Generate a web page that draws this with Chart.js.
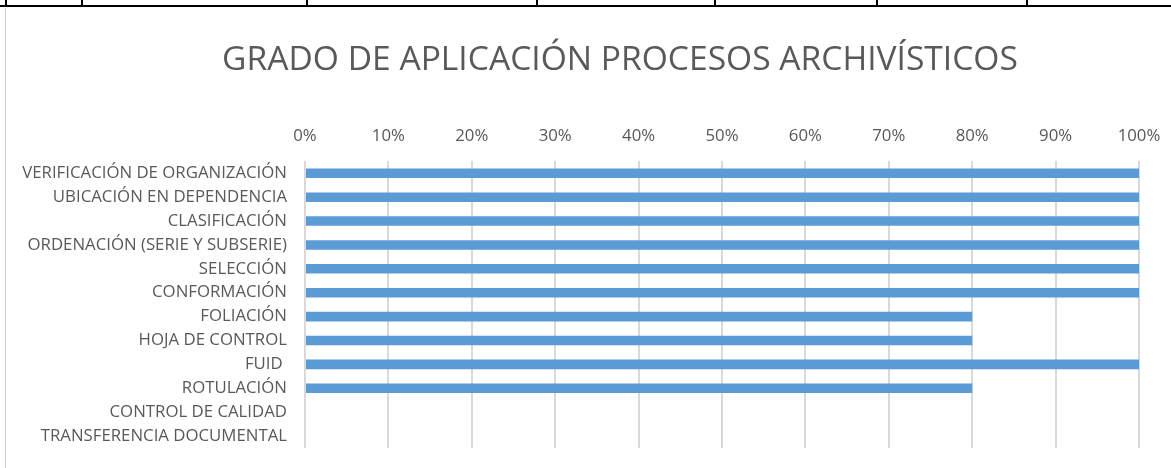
<!DOCTYPE html>
<html>
<head>
<meta charset="utf-8">
<script src="https://cdn.jsdelivr.net/npm/chart.js@4"></script>
<style>
  html, body { margin: 0; padding: 0; background: #fff; }
  #wrap { position: relative; width: 1171px; height: 468px; overflow: hidden; }
  #chart { position: absolute; left: 0; top: 0; }
  .hline { position: absolute; left: 0; top: 5px; width: 1171px; height: 2px; background: #000; }
  .vline { position: absolute; top: 0; width: 2px; height: 6px; background: #000; }
  .frame { position: absolute; left: 5px; top: 8px; width: 1px; height: 460px; background: #d0d0d0; }
</style>
</head>
<body>
<div id="wrap">
  <div class="hline"></div>
  <div class="vline" style="left:5px"></div>
  <div class="vline" style="left:81px"></div>
  <div class="vline" style="left:306px"></div>
  <div class="vline" style="left:536px"></div>
  <div class="vline" style="left:714px"></div>
  <div class="vline" style="left:876px"></div>
  <div class="vline" style="left:1026px"></div>
  <div class="frame"></div>
  <!-- the chart frame runs past the right edge of the picture -->
  <canvas id="chart" width="1240" height="468"></canvas>
</div>
<script>
// Chart data
const categories = [
    'VERIFICACIÓN DE ORGANIZACIÓN',
    'UBICACIÓN EN DEPENDENCIA',
    'CLASIFICACIÓN',
    'ORDENACIÓN (SERIE Y SUBSERIE)',
    'SELECCIÓN',
    'CONFORMACIÓN',
    'FOLIACIÓN',
    'HOJA DE CONTROL',
    'FUID ',
    'ROTULACIÓN',
    'CONTROL DE CALIDAD',
    'TRANSFERENCIA DOCUMENTAL'
];
const values = [1, 1, 1, 1, 1, 1, 0.8, 0.8, 1, 0.8, 0, 0];
const tickMin = 0;
const tickMax = 1;
const tickStep = 0.1;

const chartTitle = 'GRADO DE APLICACIÓN PROCESOS ARCHIVÍSTICOS';
const textColor = '#595959';
const fontFamily = "'Open Sans', 'Noto Sans', sans-serif";

const ctx = document.getElementById('chart').getContext('2d');
new Chart(ctx, {
    type: 'bar',
    data: {
        labels: categories,
        datasets: [{
            data: values,
            backgroundColor: '#5B9BD5',
            borderWidth: 0,
            barPercentage: 0.4,
            categoryPercentage: 1
        }]
    },
    options: {
        indexAxis: 'y',
        responsive: false,
        animation: false,
        layout: { padding: { left: 0, right: 0, top: 0, bottom: 20 } },
        plugins: {
            legend: { display: false },
            tooltip: { enabled: false },
            title: {
                display: true,
                text: chartTitle,
                color: textColor,
                font: { family: fontFamily, size: 33.6, weight: 'normal', lineHeight: 1.2 },
                padding: { top: 40, bottom: 36 }
            }
        },
        scales: {
            x: {
                position: 'top',
                min: tickMin,
                max: tickMax,
                afterBuildTicks: (scale) => {
                    const n = Math.round((tickMax - tickMin) / tickStep);
                    const t = [];
                    for (let i = 0; i <= n; i++) t.push({ value: tickMin + i * tickStep });
                    scale.ticks = t;
                },
                afterFit: (scale) => { scale.height = 45; },
                grid: { color: '#D9D9D9', lineWidth: 2, drawTicks: false },
                border: { display: false },
                ticks: {
                    color: textColor,
                    padding: 15,
                    font: { family: fontFamily, size: 16.8 },
                    callback: (v) => Math.round(v * 100) + '%'
                }
            },
            y: {
                afterFit: (scale) => {
                    scale.width = 305;
                    // labels sit inside their bands, no extra room needed
                    scale.paddingTop = 0;
                    scale.paddingBottom = 0;
                },
                grid: { display: false, drawTicks: false },
                border: { display: false },
                ticks: {
                    color: textColor,
                    padding: 18,
                    autoSkip: false,
                    font: { family: fontFamily, size: 16.8 }
                }
            },
            // empty right-hand gutter, keeps the plot narrower than the frame
            gutter: {
                type: 'category',
                axis: 'y',
                position: 'right',
                afterFit: (scale) => {
                    scale.width = 101;
                    scale.paddingTop = 0;
                    scale.paddingBottom = 0;
                },
                grid: { display: false, drawTicks: false },
                border: { display: false },
                ticks: { display: false }
            }
        }
    }
});
</script>
</body>
</html>
